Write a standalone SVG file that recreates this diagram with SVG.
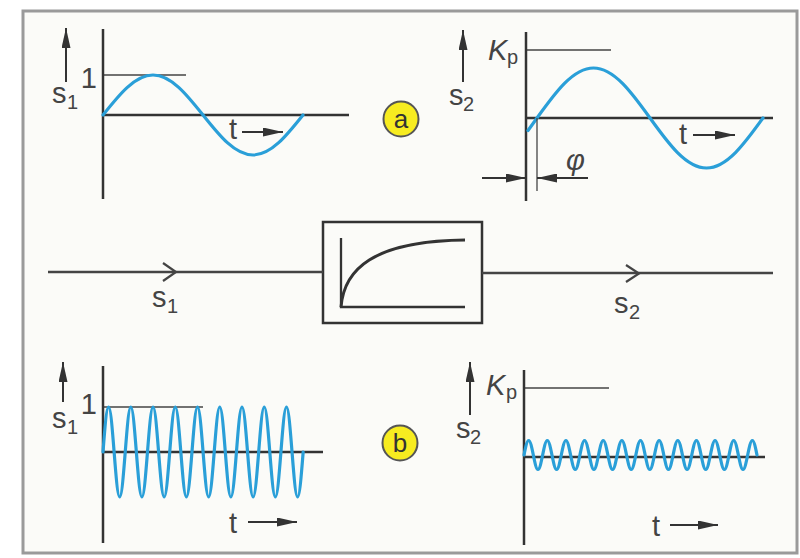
<svg xmlns="http://www.w3.org/2000/svg" width="800" height="558" viewBox="0 0 800 558">
<defs>
<marker id="ah" viewBox="0 0 20 9" refX="20" refY="4.5" markerWidth="20" markerHeight="9" markerUnits="userSpaceOnUse" orient="auto">
<path d="M0,0 L20,4.5 L0,9 z" fill="#333"/>
</marker>
<style>
.ax{stroke:#333;stroke-width:2.5;fill:none}
.ref{stroke:#444;stroke-width:1.3;fill:none}
.sig{stroke:#2a9fd8;stroke-width:3.2;fill:none;stroke-linejoin:round;stroke-linecap:round}
.arr{stroke:#333;stroke-width:2;fill:none;marker-end:url(#ah)}
.lbl{font-family:"Liberation Sans",Arial,sans-serif;font-size:29px;fill:#444}
.sub{font-family:"Liberation Sans",Arial,sans-serif;font-size:20px;fill:#444}
.badge circle{fill:#f7ec20;stroke:#555;stroke-width:2}
.badge text{font-family:"Liberation Sans",Arial,sans-serif;font-size:26px;fill:#333;text-anchor:middle}
.line{stroke:#444;stroke-width:2.5;fill:none}
</style>
</defs>
<rect x="0" y="0" width="800" height="558" fill="#ffffff"/>
<rect x="23" y="11" width="774" height="542" fill="#fbfbf8" stroke="#9a9a9a" stroke-width="3"/>

<g id="chart-a-input">
<line class="ref" x1="103" y1="75" x2="186" y2="75"/>
<line class="ax" x1="103" y1="29" x2="103" y2="199"/>
<line class="ax" x1="103" y1="115" x2="349" y2="115"/>
<path class="sig" d="M103,115 C119.3,94.5 134.9,75 153,75 S186.7,94.5 203,115 S234.9,155 253,155 S286.7,135.5 303,115"/>
<line class="arr" x1="66" y1="82" x2="66" y2="28"/>
<text class="lbl" x="52" y="103">s</text><text class="sub" x="67" y="109">1</text>
<text class="lbl" x="97" y="88" text-anchor="end">1</text>
<text class="lbl" x="229" y="139">t</text>
<line class="arr" x1="242" y1="132" x2="283" y2="132"/>
</g>

<g id="chart-a-output">
<line class="ref" x1="526" y1="50" x2="611" y2="50"/>
<line class="ax" x1="526" y1="32" x2="526" y2="201"/>
<line class="ax" x1="526" y1="118" x2="773" y2="118"/>
<path class="sig" d="M528,130.5 L537,118 C555.4,92.4 573.1,68 593.5,68 S631.6,92.4 650,118 S686.1,168 706.5,168 S744.6,143.6 763,118"/>
<line class="ref" x1="537" y1="118" x2="537" y2="191"/>
<line class="arr" x1="482" y1="178" x2="526" y2="178"/>
<line class="arr" x1="588" y1="178" x2="537" y2="178"/>
<text class="lbl" x="566" y="170" font-style="italic">φ</text>
<line class="arr" x1="463" y1="82" x2="463" y2="30"/>
<text class="lbl" x="449" y="105">s</text><text class="sub" x="463" y="111">2</text>
<text class="lbl" x="488" y="60" font-style="italic">K</text><text class="sub" x="507" y="64">p</text>
<text class="lbl" x="679" y="144">t</text>
<line class="arr" x1="693" y1="135" x2="735" y2="135"/>
</g>

<g id="badge-a" class="badge">
<circle cx="401" cy="119" r="17.5"/>
<text x="401" y="128">a</text>
</g>

<g id="block">
<rect x="323" y="222" width="159" height="101" fill="#fbfbf8" stroke="#333" stroke-width="2.5"/>
<polyline points="341,238 341,307 465,307" fill="none" stroke="#333" stroke-width="2.3"/>
<path d="M341,307 C344,270 372,241 465,240" fill="none" stroke="#333" stroke-width="3"/>
</g>

<g id="connectors">
<line class="line" x1="48" y1="272" x2="323" y2="272"/>
<polyline points="163,263 176,272 163,281" fill="none" stroke="#444" stroke-width="2.2"/>
<line class="line" x1="482" y1="273" x2="773" y2="273"/>
<polyline points="626,265 639,273.5 626,282" fill="none" stroke="#444" stroke-width="2.2"/>
<text class="lbl" x="152" y="307">s</text><text class="sub" x="167" y="313">1</text>
<text class="lbl" x="614" y="313">s</text><text class="sub" x="629" y="319">2</text>
</g>

<g id="chart-b-input">
<line class="ref" x1="103" y1="407" x2="203" y2="407"/>
<line class="ax" x1="103" y1="366" x2="103" y2="543"/>
<line class="ax" x1="103" y1="452" x2="323" y2="452"/>
<path class="sig" stroke-width="2.8" d="M103,452 c1.81,-23.05 3.55,-45 5.56,-45 s3.74,21.95 5.56,45 s3.55,45 5.56,45 s3.74,-21.95 5.56,-45 s3.55,-45 5.56,-45 s3.74,21.950 5.56,45 s3.55,45 5.56,45 s3.74,-21.95 5.56,-45 s3.55,-45 5.56,-45 s3.74,21.95 5.56,45 s3.55,45 5.56,45 s3.74,-21.95 5.56,-45 s3.55,-45 5.56,-45 s3.74,21.95 5.56,45 s3.55,45 5.56,45 s3.74,-21.95 5.56,-45 s3.55,-45 5.56,-45 s3.74,21.95 5.56,45 s3.55,45 5.56,45 s3.74,-21.95 5.56,-45 s3.55,-45 5.56,-45 s3.74,21.95 5.56,45 s3.55,45 5.56,45 s3.74,-21.95 5.56,-45 s3.55,-45 5.56,-45 s3.74,21.95 5.56,45 s3.55,45 5.56,45 s3.74,-21.95 5.56,-45 s3.55,-45 5.56,-45 s3.74,21.95 5.56,45 s3.55,45 5.56,45 s3.74,-21.95 5.56,-45 s3.55,-45 5.56,-45 s3.74,21.95 5.56,45 s3.55,45 5.56,45 s3.74,-21.95 5.56,-45"/>
<line class="arr" x1="63" y1="402" x2="63" y2="362"/>
<text class="lbl" x="52" y="428">s</text><text class="sub" x="67" y="434">1</text>
<text class="lbl" x="97" y="414" text-anchor="end">1</text>
<text class="lbl" x="229" y="533">t</text>
<line class="arr" x1="248" y1="522" x2="297" y2="522"/>
</g>

<g id="chart-b-output">
<line class="ref" x1="524" y1="388" x2="609" y2="388"/>
<line class="ax" x1="524" y1="370" x2="524" y2="545"/>
<line class="ax" x1="524" y1="457" x2="765" y2="457"/>
<path class="sig" stroke-width="2.6" d="M524,455 c1.52,-7.43 2.97,-14.5 4.66,-14.5 s3.14,7.07 4.66,14.5 s2.97,14.5 4.66,14.5 s3.14,-7.07 4.66,-14.5 s2.97,-14.5 4.66,-14.5 s3.14,7.07 4.66,14.5 s2.97,14.5 4.66,14.5 s3.14,-7.07 4.66,-14.5 s2.97,-14.5 4.66,-14.5 s3.14,7.07 4.66,14.5 s2.97,14.5 4.66,14.5 s3.14,-7.07 4.66,-14.5 s2.97,-14.5 4.66,-14.5 s3.14,7.07 4.66,14.5 s2.97,14.5 4.66,14.5 s3.14,-7.07 4.66,-14.5 s2.97,-14.5 4.66,-14.5 s3.14,7.07 4.66,14.5 s2.97,14.5 4.66,14.5 s3.14,-7.07 4.66,-14.5 s2.97,-14.5 4.66,-14.5 s3.14,7.07 4.66,14.5 s2.97,14.5 4.66,14.5 s3.14,-7.07 4.66,-14.5 s2.97,-14.5 4.66,-14.5 s3.14,7.07 4.66,14.5 s2.97,14.5 4.66,14.5 s3.14,-7.07 4.66,-14.5 s2.97,-14.5 4.66,-14.5 s3.14,7.07 4.66,14.5 s2.97,14.5 4.66,14.5 s3.14,-7.07 4.66,-14.5 s2.97,-14.5 4.66,-14.5 s3.14,7.07 4.66,14.5 s2.97,14.5 4.66,14.5 s3.14,-7.07 4.66,-14.5 s2.97,-14.5 4.66,-14.5 s3.14,7.07 4.66,14.5 s2.97,14.5 4.66,14.5 s3.14,-7.07 4.66,-14.5 s2.97,-14.5 4.66,-14.5 s3.14,7.07 4.66,14.5 s2.97,14.5 4.66,14.5 s3.14,-7.07 4.66,-14.5 s2.97,-14.5 4.66,-14.5 s3.14,7.07 4.66,14.5 s2.97,14.5 4.66,14.5 s3.14,-7.07 4.66,-14.5 s2.97,-14.5 4.66,-14.5 s3.14,7.07 4.66,14.5"/>
<line class="arr" x1="470" y1="415" x2="470" y2="362"/>
<text class="lbl" x="456" y="438">s</text><text class="sub" x="470" y="444">2</text>
<text class="lbl" x="486" y="395" font-style="italic">K</text><text class="sub" x="506" y="399">p</text>
<text class="lbl" x="652" y="536">t</text>
<line class="arr" x1="670" y1="525" x2="718" y2="525"/>
</g>

<g id="badge-b" class="badge">
<circle cx="400" cy="443" r="17.5"/>
<text x="400" y="452">b</text>
</g>
</svg>
